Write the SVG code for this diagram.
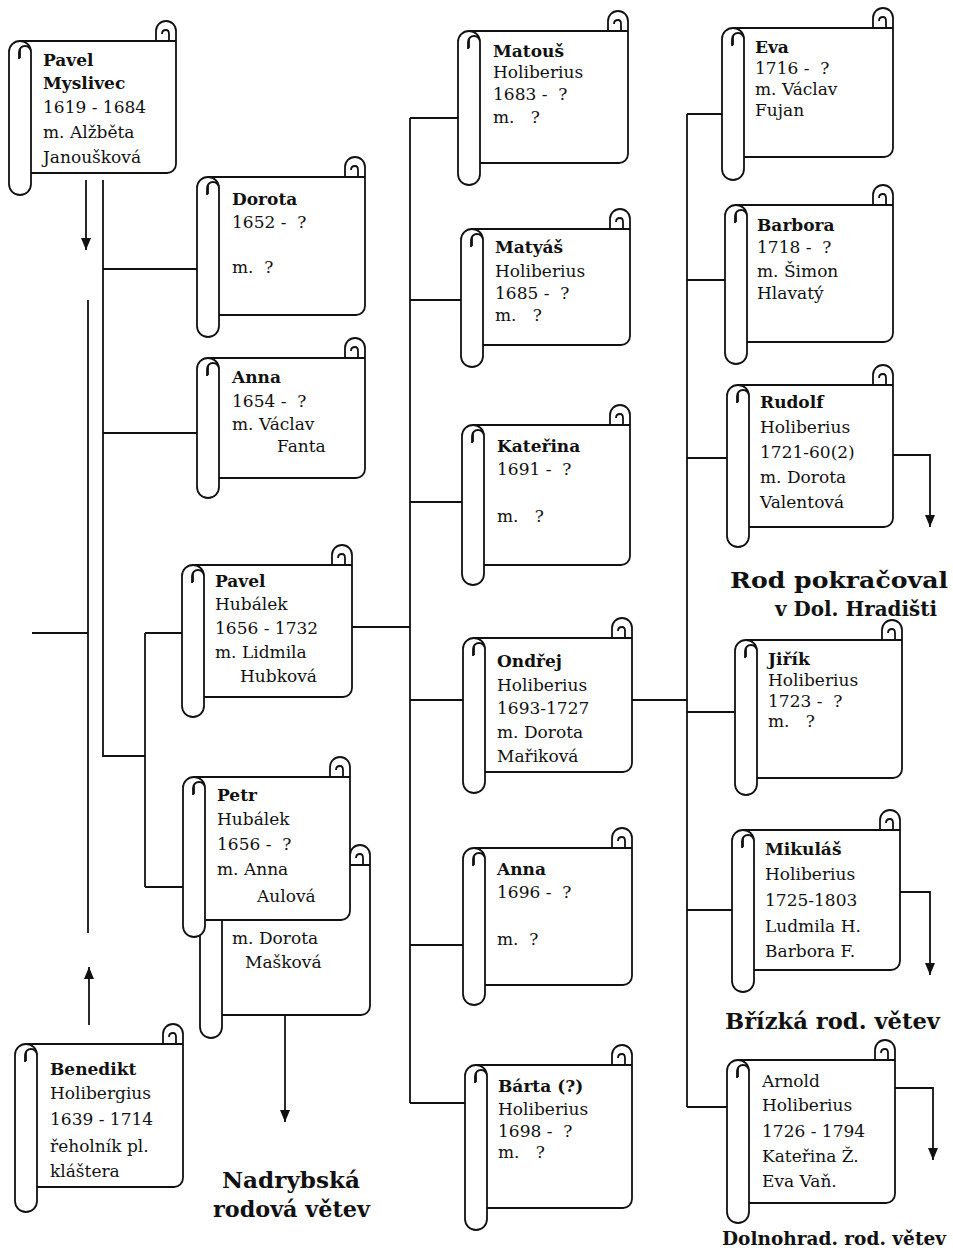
<svg xmlns="http://www.w3.org/2000/svg" width="953" height="1256" viewBox="0 0 953 1256">
<defs>
<style>
.s{fill:#fff;stroke:#111;stroke-width:1.8;stroke-linejoin:round}
.c{fill:none;stroke:#111;stroke-width:1.8}
.t{font-family:"DejaVu Serif","Liberation Serif",serif;font-size:17px;fill:#111}
.b{font-weight:bold}
.h{font-family:"DejaVu Serif","Liberation Serif",serif;font-size:23px;font-weight:bold;fill:#111}
</style>
<marker id="ar" viewBox="0 0 12 10" refX="12" refY="5" markerWidth="12" markerHeight="10" markerUnits="userSpaceOnUse" orient="auto"><path d="M0 0 L12 5 L0 10 z" fill="#111"/></marker>
</defs>
<rect width="953" height="1256" fill="#fff"/>
<g id="connectors" class="c">
<path d="M86 180 V250" marker-end="url(#ar)"/>
<path d="M103 180 V756 H145"/>
<path d="M103 269 H197"/>
<path d="M103 433 H197"/>
<path d="M145 633 V887"/>
<path d="M145 633 H182"/>
<path d="M145 887 H183"/>
<path d="M32 633 H88"/>
<path d="M88 300 V933"/>
<path d="M89 1025 V967" marker-end="url(#ar)"/>
<path d="M285 1015 V1122" marker-end="url(#ar)"/>
<path d="M352 627 H410"/>
<path d="M410 118 V1103"/>
<path d="M410 118 H458 M410 300 H461 M410 502 H462 M410 700 H463 M410 945 H463 M410 1103 H465"/>
<path d="M632 700 H687"/>
<path d="M687 114 V1107"/>
<path d="M687 114 H722 M687 280 H725 M687 458 H727 M687 712 H735 M687 910 H732 M687 1107 H727"/>
<path d="M893 455 H930 V527" marker-end="url(#ar)"/>
<path d="M900 892 H930 V975" marker-end="url(#ar)"/>
<path d="M895 1088 H933 V1160" marker-end="url(#ar)"/>
</g>
<g id="pavel-myslivec">
<path class="s" d="M20 41 H156 V31 A10 10 0 0 1 176 31 V164 A9 9 0 0 1 167 173 H20 Z M156 41 H176 M162 34 Q162 30 166 30 Q169 30 169 34 V41"/>
<path class="s" d="M31 52 V184 A11 11 0 0 1 9 184 V52 A11 11 0 0 1 31 52 Z M31 52 A6 6 0 0 0 19 52 V59"/>
<text class="t b" x="43" y="66">Pavel</text>
<text class="t b" x="43" y="89">Myslivec</text>
<text class="t" x="43" y="113">1619 - 1684</text>
<text class="t" x="43" y="138">m. Alžběta</text>
<text class="t" x="43" y="163">Janoušková</text>
</g>
<g id="dorota">
<path class="s" d="M208 177 H345 V167 A10 10 0 0 1 365 167 V306 A9 9 0 0 1 356 315 H208 Z M345 177 H365 M351 170 Q351 166 355 166 Q358 166 358 170 V177"/>
<path class="s" d="M219 188 V326 A11 11 0 0 1 197 326 V188 A11 11 0 0 1 219 188 Z M219 188 A6 6 0 0 0 207 188 V195"/>
<text class="t b" x="232" y="205">Dorota</text>
<text class="t" x="232" y="228" xml:space="preserve">1652 -  ?</text>
<text class="t" x="232" y="273" xml:space="preserve">m.  ?</text>
</g>
<g id="anna-1654">
<path class="s" d="M208 358 H345 V348 A10 10 0 0 1 365 348 V469 A9 9 0 0 1 356 478 H208 Z M345 358 H365 M351 351 Q351 347 355 347 Q358 347 358 351 V358"/>
<path class="s" d="M219 369 V487 A11 11 0 0 1 197 487 V369 A11 11 0 0 1 219 369 Z M219 369 A6 6 0 0 0 207 369 V376"/>
<text class="t b" x="232" y="383">Anna</text>
<text class="t" x="232" y="407" xml:space="preserve">1654 -  ?</text>
<text class="t" x="232" y="430">m. Václav</text>
<text class="t" x="277" y="452">Fanta</text>
</g>
<g id="pavel-hubalek">
<path class="s" d="M193 565 H332 V555 A10 10 0 0 1 352 555 V688 A9 9 0 0 1 343 697 H193 Z M332 565 H352 M338 558 Q338 554 342 554 Q345 554 345 558 V565"/>
<path class="s" d="M204 576 V706 A11 11 0 0 1 182 706 V576 A11 11 0 0 1 204 576 Z M204 576 A6 6 0 0 0 192 576 V583"/>
<text class="t b" x="215" y="587">Pavel</text>
<text class="t" x="215" y="610">Hubálek</text>
<text class="t" x="215" y="634">1656 - 1732</text>
<text class="t" x="215" y="658">m. Lidmila</text>
<text class="t" x="240" y="682">Hubková</text>
</g>
<g id="petr-second-marriage">
<path class="s" d="M211 865 H350 V855 A10 10 0 0 1 370 855 V1006 A9 9 0 0 1 361 1015 H211 Z M350 865 H370 M356 858 Q356 854 360 854 Q363 854 363 858 V865"/>
<path class="s" d="M222 876 V1027 A11 11 0 0 1 200 1027 V876 A11 11 0 0 1 222 876 Z M222 876 A6 6 0 0 0 210 876 V883"/>
<text class="t" x="232" y="944">m. Dorota</text>
<text class="t" x="245" y="968">Mašková</text>
</g>
<g id="petr-hubalek">
<path class="s" d="M194 777 H330 V767 A10 10 0 0 1 350 767 V911 A9 9 0 0 1 341 920 H194 Z M330 777 H350 M336 770 Q336 766 340 766 Q343 766 343 770 V777"/>
<path class="s" d="M205 788 V926 A11 11 0 0 1 183 926 V788 A11 11 0 0 1 205 788 Z M205 788 A6 6 0 0 0 193 788 V795"/>
<text class="t b" x="217" y="801">Petr</text>
<text class="t" x="217" y="825">Hubálek</text>
<text class="t" x="217" y="850" xml:space="preserve">1656 -  ?</text>
<text class="t" x="217" y="875">m. Anna</text>
<text class="t" x="257" y="902">Aulová</text>
</g>
<g id="matous">
<path class="s" d="M469 31 H608 V21 A10 10 0 0 1 628 21 V154 A9 9 0 0 1 619 163 H469 Z M608 31 H628 M614 24 Q614 20 618 20 Q621 20 621 24 V31"/>
<path class="s" d="M480 42 V174 A11 11 0 0 1 458 174 V42 A11 11 0 0 1 480 42 Z M480 42 A6 6 0 0 0 468 42 V49"/>
<text class="t b" x="493" y="57">Matouš</text>
<text class="t" x="493" y="78">Holiberius</text>
<text class="t" x="493" y="100" xml:space="preserve">1683 -  ?</text>
<text class="t" x="493" y="123" xml:space="preserve">m.   ?</text>
</g>
<g id="matyas">
<path class="s" d="M472 229 H610 V219 A10 10 0 0 1 630 219 V336 A9 9 0 0 1 621 345 H472 Z M610 229 H630 M616 222 Q616 218 620 218 Q623 218 623 222 V229"/>
<path class="s" d="M483 240 V356 A11 11 0 0 1 461 356 V240 A11 11 0 0 1 483 240 Z M483 240 A6 6 0 0 0 471 240 V247"/>
<text class="t b" x="495" y="253">Matyáš</text>
<text class="t" x="495" y="277">Holiberius</text>
<text class="t" x="495" y="299" xml:space="preserve">1685 -  ?</text>
<text class="t" x="495" y="321" xml:space="preserve">m.   ?</text>
</g>
<g id="katerina">
<path class="s" d="M473 425 H610 V415 A10 10 0 0 1 630 415 V556 A9 9 0 0 1 621 565 H473 Z M610 425 H630 M616 418 Q616 414 620 414 Q623 414 623 418 V425"/>
<path class="s" d="M484 436 V574 A11 11 0 0 1 462 574 V436 A11 11 0 0 1 484 436 Z M484 436 A6 6 0 0 0 472 436 V443"/>
<text class="t b" x="497" y="452">Kateřina</text>
<text class="t" x="497" y="475" xml:space="preserve">1691 -  ?</text>
<text class="t" x="497" y="522" xml:space="preserve">m.   ?</text>
</g>
<g id="ondrej">
<path class="s" d="M474 638 H612 V628 A10 10 0 0 1 632 628 V763 A9 9 0 0 1 623 772 H474 Z M612 638 H632 M618 631 Q618 627 622 627 Q625 627 625 631 V638"/>
<path class="s" d="M485 649 V782 A11 11 0 0 1 463 782 V649 A11 11 0 0 1 485 649 Z M485 649 A6 6 0 0 0 473 649 V656"/>
<text class="t b" x="497" y="667">Ondřej</text>
<text class="t" x="497" y="691">Holiberius</text>
<text class="t" x="497" y="714">1693-1727</text>
<text class="t" x="497" y="738">m. Dorota</text>
<text class="t" x="497" y="762">Mařiková</text>
</g>
<g id="anna-1696">
<path class="s" d="M474 848 H612 V838 A10 10 0 0 1 632 838 V976 A9 9 0 0 1 623 985 H474 Z M612 848 H632 M618 841 Q618 837 622 837 Q625 837 625 841 V848"/>
<path class="s" d="M485 859 V994 A11 11 0 0 1 463 994 V859 A11 11 0 0 1 485 859 Z M485 859 A6 6 0 0 0 473 859 V866"/>
<text class="t b" x="497" y="875">Anna</text>
<text class="t" x="497" y="898" xml:space="preserve">1696 -  ?</text>
<text class="t" x="497" y="945" xml:space="preserve">m.  ?</text>
</g>
<g id="barta">
<path class="s" d="M476 1065 H612 V1055 A10 10 0 0 1 632 1055 V1199 A9 9 0 0 1 623 1208 H476 Z M612 1065 H632 M618 1058 Q618 1054 622 1054 Q625 1054 625 1058 V1065"/>
<path class="s" d="M487 1076 V1219 A11 11 0 0 1 465 1219 V1076 A11 11 0 0 1 487 1076 Z M487 1076 A6 6 0 0 0 475 1076 V1083"/>
<text class="t b" x="498" y="1092">Bárta (?)</text>
<text class="t" x="498" y="1115">Holiberius</text>
<text class="t" x="498" y="1137" xml:space="preserve">1698 -  ?</text>
<text class="t" x="498" y="1158" xml:space="preserve">m.   ?</text>
</g>
<g id="eva">
<path class="s" d="M733 28 H873 V18 A10 10 0 0 1 893 18 V148 A9 9 0 0 1 884 157 H733 Z M873 28 H893 M879 21 Q879 17 883 17 Q886 17 886 21 V28"/>
<path class="s" d="M744 39 V169 A11 11 0 0 1 722 169 V39 A11 11 0 0 1 744 39 Z M744 39 A6 6 0 0 0 732 39 V46"/>
<text class="t b" x="755" y="53">Eva</text>
<text class="t" x="755" y="74" xml:space="preserve">1716 -  ?</text>
<text class="t" x="755" y="95">m. Václav</text>
<text class="t" x="755" y="116">Fujan</text>
</g>
<g id="barbora">
<path class="s" d="M736 205 H873 V195 A10 10 0 0 1 893 195 V333 A9 9 0 0 1 884 342 H736 Z M873 205 H893 M879 198 Q879 194 883 194 Q886 194 886 198 V205"/>
<path class="s" d="M747 216 V353 A11 11 0 0 1 725 353 V216 A11 11 0 0 1 747 216 Z M747 216 A6 6 0 0 0 735 216 V223"/>
<text class="t b" x="757" y="231">Barbora</text>
<text class="t" x="757" y="253" xml:space="preserve">1718 -  ?</text>
<text class="t" x="757" y="277">m. Šimon</text>
<text class="t" x="757" y="299">Hlavatý</text>
</g>
<g id="rudolf">
<path class="s" d="M738 385 H873 V375 A10 10 0 0 1 893 375 V518 A9 9 0 0 1 884 527 H738 Z M873 385 H893 M879 378 Q879 374 883 374 Q886 374 886 378 V385"/>
<path class="s" d="M749 396 V536 A11 11 0 0 1 727 536 V396 A11 11 0 0 1 749 396 Z M749 396 A6 6 0 0 0 737 396 V403"/>
<text class="t b" x="760" y="408">Rudolf</text>
<text class="t" x="760" y="433">Holiberius</text>
<text class="t" x="760" y="458">1721-60(2)</text>
<text class="t" x="760" y="483">m. Dorota</text>
<text class="t" x="760" y="508">Valentová</text>
</g>
<g id="jirik">
<path class="s" d="M746 640 H882 V630 A10 10 0 0 1 902 630 V769 A9 9 0 0 1 893 778 H746 Z M882 640 H902 M888 633 Q888 629 892 629 Q895 629 895 633 V640"/>
<path class="s" d="M757 651 V784 A11 11 0 0 1 735 784 V651 A11 11 0 0 1 757 651 Z M757 651 A6 6 0 0 0 745 651 V658"/>
<text class="t b" x="768" y="665">Jiřík</text>
<text class="t" x="768" y="686">Holiberius</text>
<text class="t" x="768" y="707" xml:space="preserve">1723 -  ?</text>
<text class="t" x="768" y="727" xml:space="preserve">m.   ?</text>
</g>
<g id="mikulas">
<path class="s" d="M743 830 H880 V820 A10 10 0 0 1 900 820 V961 A9 9 0 0 1 891 970 H743 Z M880 830 H900 M886 823 Q886 819 890 819 Q893 819 893 823 V830"/>
<path class="s" d="M754 841 V981 A11 11 0 0 1 732 981 V841 A11 11 0 0 1 754 841 Z M754 841 A6 6 0 0 0 742 841 V848"/>
<text class="t b" x="765" y="855">Mikuláš</text>
<text class="t" x="765" y="880">Holiberius</text>
<text class="t" x="765" y="906">1725-1803</text>
<text class="t" x="765" y="932">Ludmila H.</text>
<text class="t" x="765" y="957">Barbora F.</text>
</g>
<g id="arnold">
<path class="s" d="M738 1060 H875 V1050 A10 10 0 0 1 895 1050 V1194 A9 9 0 0 1 886 1203 H738 Z M875 1060 H895 M881 1053 Q881 1049 885 1049 Q888 1049 888 1053 V1060"/>
<path class="s" d="M749 1071 V1212 A11 11 0 0 1 727 1212 V1071 A11 11 0 0 1 749 1071 Z M749 1071 A6 6 0 0 0 737 1071 V1078"/>
<text class="t" x="762" y="1087">Arnold</text>
<text class="t" x="762" y="1111">Holiberius</text>
<text class="t" x="762" y="1137">1726 - 1794</text>
<text class="t" x="762" y="1162">Kateřina Ž.</text>
<text class="t" x="762" y="1187">Eva Vaň.</text>
</g>
<g id="benedikt">
<path class="s" d="M26 1044 H163 V1034 A10 10 0 0 1 183 1034 V1178 A9 9 0 0 1 174 1187 H26 Z M163 1044 H183 M169 1037 Q169 1033 173 1033 Q176 1033 176 1037 V1044"/>
<path class="s" d="M37 1055 V1201 A11 11 0 0 1 15 1201 V1055 A11 11 0 0 1 37 1055 Z M37 1055 A6 6 0 0 0 25 1055 V1062"/>
<text class="t b" x="50" y="1075">Benedikt</text>
<text class="t" x="50" y="1099">Holibergius</text>
<text class="t" x="50" y="1125">1639 - 1714</text>
<text class="t" x="50" y="1152">řeholník pl.</text>
<text class="t" x="50" y="1177">kláštera</text>
</g>
<g id="labels">
<text class="h" x="730" y="588" textLength="218" lengthAdjust="spacingAndGlyphs">Rod pokračoval</text>
<text class="h" x="775" y="616" style="font-size:21px" textLength="162" lengthAdjust="spacingAndGlyphs">v Dol. Hradišti</text>
<text class="h" x="725" y="1029" style="font-size:22px" textLength="215" lengthAdjust="spacingAndGlyphs">Břízká rod. větev</text>
<text class="h" x="722" y="1245" style="font-size:19px" textLength="224" lengthAdjust="spacingAndGlyphs">Dolnohrad. rod. větev</text>
<text class="h" x="222" y="1188" textLength="138" lengthAdjust="spacingAndGlyphs">Nadrybská</text>
<text class="h" x="213" y="1217" textLength="157" lengthAdjust="spacingAndGlyphs">rodová větev</text>
</g>
</svg>
